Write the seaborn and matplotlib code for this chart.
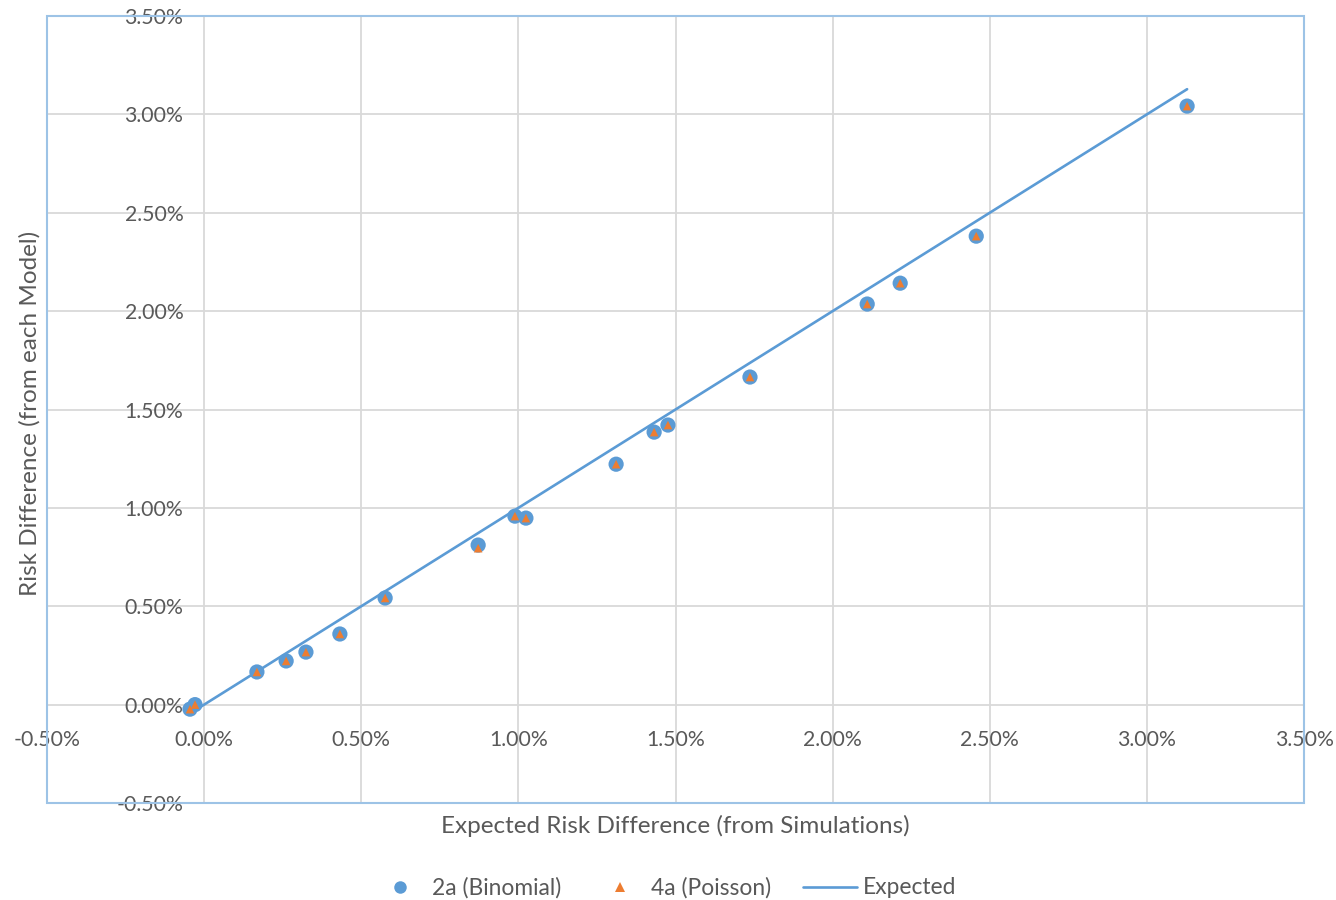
import numpy as np
import pandas as pd
import matplotlib
matplotlib.use("Agg")
import matplotlib.pyplot as plt
import seaborn as sns
from matplotlib.patches import Rectangle
from matplotlib.ticker import PercentFormatter
from matplotlib.lines import Line2D

# ---- data (percent units) ----
expected = [-0.045, -0.029, 0.168, 0.261, 0.324, 0.432, 0.576, 0.872, 0.989, 1.024,
            1.311, 1.432, 1.476, 1.737, 2.110, 2.215, 2.457, 3.128]
binomial = [-0.023, 0.000, 0.166, 0.222, 0.267, 0.359, 0.542, 0.811, 0.958, 0.948,
            1.222, 1.385, 1.421, 1.665, 2.036, 2.142, 2.381, 3.042]
poisson = [-0.023, 0.000, 0.166, 0.222, 0.267, 0.359, 0.542, 0.795, 0.958, 0.948,
           1.222, 1.385, 1.421, 1.665, 2.036, 2.142, 2.381, 3.042]
ticks = [-0.5, 0.0, 0.5, 1.0, 1.5, 2.0, 2.5, 3.0, 3.5]
series_labels = ["2a (Binomial)", "4a (Poisson)", "Expected"]

df = pd.DataFrame({"expected": expected, "binomial": binomial, "poisson": poisson})

sns.set_theme(style="white")
plt.rcParams["font.family"] = ["Lato", "DejaVu Sans"]
plt.rcParams["axes.unicode_minus"] = False

BLUE = "#5B9BD5"
ORANGE = "#ED7D31"
GRAY = "#595959"

fig = plt.figure(figsize=(13.36, 9), dpi=100)
ax = fig.add_axes([47 / 1336, 1 - 803 / 900, (1304 - 47) / 1336, (803 - 16) / 900])

sns.lineplot(data=df, x="expected", y="expected", ax=ax, color=BLUE, lw=1.9,
             zorder=2, legend=False, sort=True)
sns.scatterplot(data=df, x="expected", y="binomial", ax=ax, color=BLUE, s=120,
                marker="o", edgecolor="none", linewidth=0, zorder=3, legend=False)
sns.scatterplot(data=df, x="expected", y="poisson", ax=ax, color=ORANGE, s=38,
                marker="^", edgecolor="none", linewidth=0, zorder=4, legend=False)

ax.set_xlim(-0.5, 3.5)
ax.set_ylim(-0.5, 3.5)
ax.set_xticks(ticks)
ax.set_yticks(ticks)
fmt = PercentFormatter(xmax=100, decimals=2)
ax.xaxis.set_major_formatter(fmt)
ax.yaxis.set_major_formatter(fmt)

for s in ax.spines.values():
    s.set_visible(False)
ax.spines["left"].set_position(("data", 0))
ax.spines["bottom"].set_position(("data", 0))
ax.tick_params(axis="both", length=0, labelsize=15.3, labelcolor=GRAY)
ax.tick_params(axis="x", pad=18)
ax.tick_params(axis="y", pad=15)
ax.grid(True, color="#D9D9D9", lw=1.3)
ax.set_axisbelow(True)
ax.set_xlabel("")
ax.set_ylabel("")

ax.add_patch(Rectangle((0, 0), 1, 1, transform=ax.transAxes, fill=False,
                       edgecolor="#9DC3E6", lw=1.5, clip_on=False, zorder=1))

fig.text(675 / 1336, 1 - 826 / 900, "Expected Risk Difference (from Simulations)",
         ha="center", va="center", fontsize=17.5, color=GRAY)
fig.text(30 / 1336, 1 - 413 / 900, "Risk Difference (from each Model)",
         ha="center", va="center", rotation=90, fontsize=17.5, color=GRAY)

# legend: three pieces placed like the reference
LFS = 16.4
em = LFS * 100 / 72  # pixels per em
ly = 1 - 888 / 900
specs = [
    (Line2D([], [], ls="none", marker="o", color=BLUE, markersize=9, markeredgewidth=0),
     389, 22 / em, 21 / em),
    (Line2D([], [], ls="none", marker="^", color=ORANGE, markersize=6.5, markeredgewidth=0),
     609, 22 / em, 20 / em),
    (Line2D([], [], color=BLUE, lw=1.9), 803, 54 / em, 6 / em),
]
for (h, x0, hl, tp), lab in zip(specs, series_labels):
    leg = fig.legend([h], [lab], loc="center left", bbox_to_anchor=(x0 / 1336, ly),
                     frameon=False, fontsize=LFS, labelcolor=GRAY, borderpad=0,
                     borderaxespad=0, handlelength=hl, handletextpad=tp)

fig.savefig("out.png", dpi=100)
